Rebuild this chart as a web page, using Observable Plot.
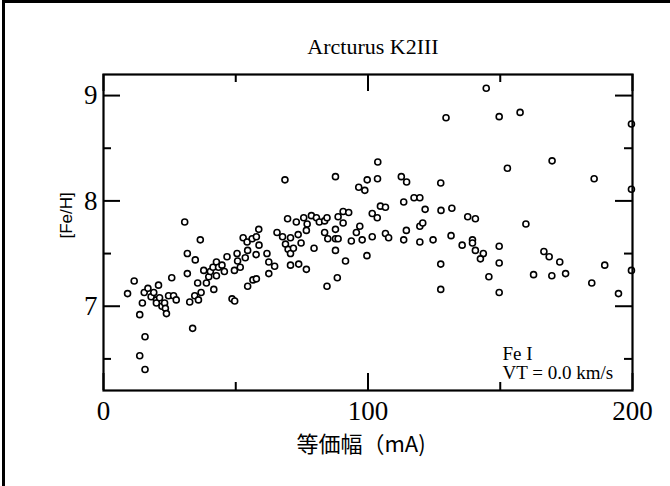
<!DOCTYPE html>
<html>
<head>
<meta charset="utf-8">
<script src="https://cdn.jsdelivr.net/npm/d3@7"></script>
<script src="https://cdn.jsdelivr.net/npm/@observablehq/plot@0.6"></script>
<style>
  html, body { margin: 0; padding: 0; background: #fff; }
  #wrap { position: relative; width: 670px; height: 486px; overflow: hidden; }
  #border { position: absolute; left: 2px; top: 0; width: 668px; height: 486px; border-left: 3px solid #000; border-top: 3px solid #000; box-sizing: border-box; pointer-events: none; }
  #chart { position: absolute; left: 0; top: 0; }
</style>
</head>
<body>
<div id="wrap"><div id="chart"></div><div id="border"></div></div>
<script>
// Equivalent width (mA)
const width_mA = [
  9.1, 11.6, 13.7, 14.7, 15.7, 13.7, 15.7,
  15.4, 16.8, 18.0, 19.0, 20.0, 20.8, 20.0, 21.2, 22.1, 23.1, 23.4, 23.8, 24.6, 26.5, 27.5, 25.8,
  30.7, 31.7, 31.7, 32.6, 33.7, 34.7, 34.5, 35.6, 35.9, 36.6, 36.9, 37.9, 38.9, 39.8, 40.4, 41.7, 41.4,
  42.7, 42.7, 43.5, 44.8, 45.7, 46.7, 48.6, 49.6, 49.5, 50.5, 50.7, 51.7, 53.6, 54.5, 52.8, 54.3, 54.5,
  56.5, 57.8, 56.2, 57.8, 57.7, 58.8, 58.7, 61.8, 62.5, 62.5, 64.7, 65.6,
  67.7, 68.8, 69.6, 70.7, 69.8, 70.7, 71.8, 70.7, 72.9, 73.6, 73.8, 74.7, 75.7, 77.0, 76.7, 76.7,
  78.6, 79.6, 80.5, 81.6, 83.6, 84.5, 83.6, 84.8, 84.5, 87.7, 87.7, 88.7, 87.7, 88.4, 88.7, 90.6,
  90.6, 92.7, 91.5, 93.7, 95.6, 96.9, 97.8, 99.6, 101.6, 101.6, 103.5, 104.7, 106.6, 106.6, 107.8,
  113.5, 114.5, 113.5, 117.4, 119.6, 119.6, 120.7, 119.6, 121.6, 124.6, 127.6, 127.5, 127.5,
  131.7, 131.4, 135.6,
  129.5, 103.7, 68.6, 87.7, 96.5, 98.8, 99.7, 103.6, 112.6, 114.6, 127.5,
  144.7, 149.6, 157.5, 199.6, 169.6, 152.7, 185.5, 199.6, 137.7, 140.6, 159.7, 139.5, 139.5, 140.6,
  143.6, 142.5, 149.6, 149.6, 145.7, 149.6, 162.6, 166.5, 168.5, 169.5, 172.5, 174.7, 184.6, 189.5,
  194.7, 199.6
];
// [Fe/H] abundance
const feH = [
  7.12, 7.24, 6.92, 7.03, 6.71, 6.53, 6.40,
  7.13, 7.17, 7.09, 7.13, 7.06, 7.20, 7.03, 7.08, 7.00, 7.03, 6.98, 6.93, 7.10, 7.10, 7.06, 7.27,
  7.80, 7.50, 7.31, 7.04, 6.79, 7.44, 7.10, 7.22, 7.06, 7.63, 7.13, 7.34, 7.22, 7.28, 7.33, 7.16, 7.37,
  7.42, 7.29, 7.37, 7.39, 7.33, 7.47, 7.07, 7.05, 7.34, 7.50, 7.43, 7.37, 7.46, 7.19, 7.65, 7.61, 7.53,
  7.25, 7.26, 7.64, 7.66, 7.49, 7.58, 7.73, 7.50, 7.42, 7.31, 7.38, 7.70,
  7.66, 7.59, 7.83, 7.65, 7.54, 7.50, 7.55, 7.39, 7.80, 7.68, 7.40, 7.60, 7.84, 7.78, 7.72, 7.35,
  7.86, 7.55, 7.84, 7.80, 7.81, 7.84, 7.70, 7.64, 7.19, 7.73, 7.64, 7.64, 7.53, 7.27, 7.85, 7.79,
  7.90, 7.89, 7.43, 7.62, 7.70, 7.76, 7.63, 7.48, 7.66, 7.88, 7.84, 7.95, 7.94, 7.69, 7.65,
  7.99, 7.72, 7.63, 8.03, 8.03, 7.76, 7.79, 7.61, 7.92, 7.63, 7.91, 7.40, 7.16,
  7.93, 7.67, 7.58,
  8.79, 8.37, 8.20, 8.23, 8.13, 8.10, 8.20, 8.21, 8.23, 8.18, 8.17,
  9.07, 8.80, 8.84, 8.73, 8.38, 8.31, 8.21, 8.11, 7.85, 7.83, 7.78, 7.63, 7.60, 7.53,
  7.50, 7.45, 7.57, 7.41, 7.28, 7.13, 7.30, 7.52, 7.47, 7.29, 7.42, 7.31, 7.22, 7.39,
  7.12, 7.34
];
const xDomain = [0, 200];
const yDomain = [6.2, 9.2];
const xMajor = [0, 100, 200];
const xMinor = [50, 150];
const yMajor = [7, 8, 9];
const yMinor = [6.5, 7.5, 8.5];
const titleText = "Arcturus K2III";
const noteText = "Fe I\nVT = 0.0 km/s";
const xLabel = "等価幅（mA)";
const yLabel = "[Fe/H]";

const points = width_mA.map((w, i) => ({w, fe: feH[i]}));

const serif = "'Liberation Serif', 'Times New Roman', serif";
const sans = "'Liberation Sans', Arial, sans-serif";
const cjk = "'Noto Sans CJK JP', 'Noto Sans', sans-serif";

const W = 670, H = 486, mL = 103, mR = 38, mT = 74, mB = 96;
// convert a tick length in pixels to data units along each axis
const dxPx = px => px * (xDomain[1] - xDomain[0]) / (W - mL - mR);
const dyPx = px => px * (yDomain[1] - yDomain[0]) / (H - mT - mB);
const tickStyle = {stroke: "black", strokeWidth: 2};
const xTicks = (vals, len) => [
  Plot.ruleX(vals, {x: d => d, y1: yDomain[0], y2: yDomain[0] + dyPx(len), ...tickStyle}),
  Plot.ruleX(vals, {x: d => d, y1: yDomain[1], y2: yDomain[1] - dyPx(len), ...tickStyle})
];
const yTicks = (vals, len) => [
  Plot.ruleY(vals, {y: d => d, x1: xDomain[0], x2: xDomain[0] + dxPx(len), ...tickStyle}),
  Plot.ruleY(vals, {y: d => d, x1: xDomain[1], x2: xDomain[1] - dxPx(len), ...tickStyle})
];

const chart = Plot.plot({
  width: W,
  height: H,
  marginLeft: mL,
  marginRight: mR,
  marginTop: mT,
  marginBottom: mB,
  style: {fontFamily: serif, color: "black", background: "white"},
  x: {domain: xDomain, axis: null},
  y: {domain: yDomain, axis: null},
  marks: [
    Plot.dot(points, {x: "w", y: "fe", r: 3, stroke: "black", strokeWidth: 1.6, fill: "white"}),
    Plot.frame({stroke: "black", strokeWidth: 2.2}),
    xTicks(xMajor, 17),
    xTicks(xMinor, 8),
    yTicks(yMajor, 17),
    yTicks(yMinor, 8),
    Plot.text(xMajor, {x: d => d, text: d => String(d), frameAnchor: "bottom", lineAnchor: "top", dy: 10, fontSize: 27, fill: "black", fontFamily: serif}),
    Plot.text(yMajor, {y: d => d, text: d => String(d), frameAnchor: "left", textAnchor: "end", lineAnchor: "middle", dx: -6, fontSize: 27, fill: "black", fontFamily: serif}),
    Plot.text([titleText], {text: d => d, frameAnchor: "top", lineAnchor: "bottom", dy: -21, dx: 5, fontSize: 22, fill: "black", fontFamily: serif}),
    Plot.text([noteText], {text: d => d, frameAnchor: "bottom-right", textAnchor: "start", lineAnchor: "bottom", lineHeight: 1.0, dx: -130, dy: -12, fontSize: 19, fill: "black", fontFamily: serif}),
    Plot.text([xLabel], {text: d => d, frameAnchor: "bottom", lineAnchor: "middle", dy: 54, dx: -7, fontSize: 22, fill: "black", fontFamily: cjk}),
    Plot.text([yLabel], {text: d => d, frameAnchor: "left", rotate: -90, lineAnchor: "middle", dx: -37, dy: 6, fontSize: 17, fill: "black", fontFamily: sans})
  ]
});
document.getElementById("chart").appendChild(chart);
</script>
</body>
</html>
